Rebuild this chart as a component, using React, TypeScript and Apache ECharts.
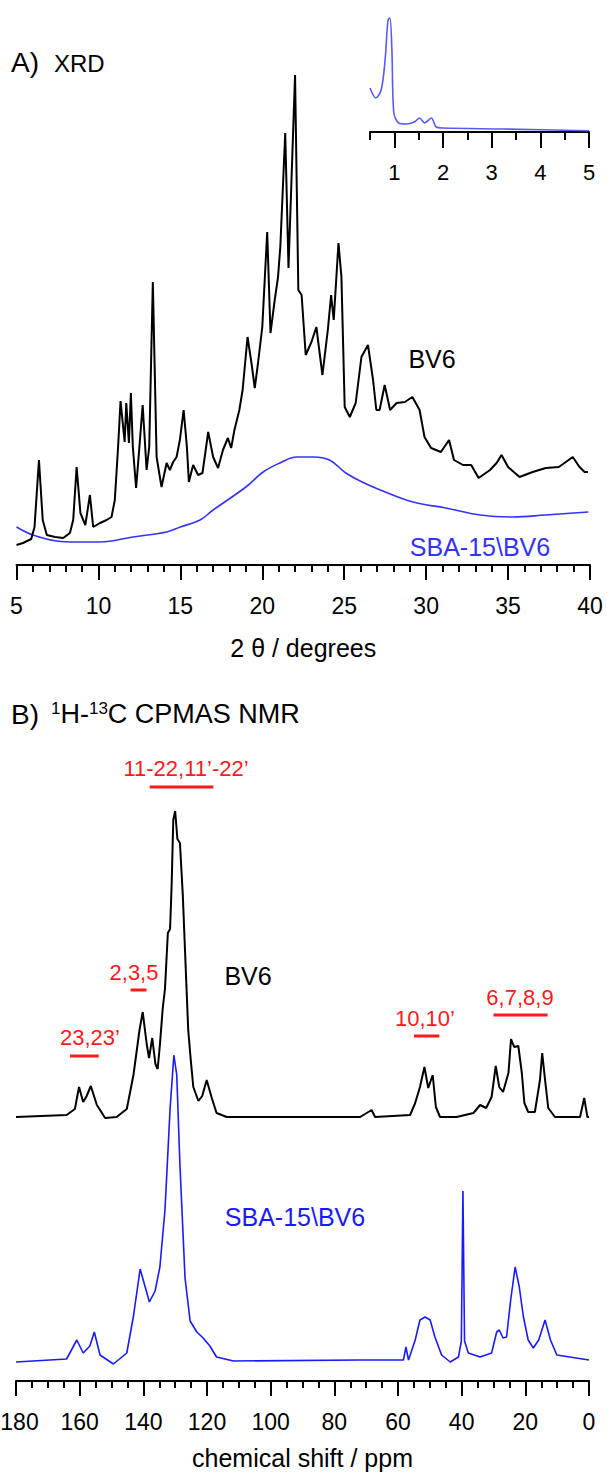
import React, { useEffect, useRef } from "react";
import * as echarts from "echarts";

const FONT = "'Liberation Sans', Arial, Helvetica, sans-serif";

// ---------- A) XRD (2θ in degrees, intensity in arbitrary units) ----------
const xrdAngle = [
  5.0, 5.4, 5.9, 6.1, 6.37, 6.6, 6.85, 7.35, 7.85, 8.26, 8.46, 8.67, 8.9, 9.2, 9.48, 9.68,
  10.1, 10.5, 10.8, 11.0, 11.2, 11.35, 11.6, 11.7, 11.86, 11.98, 12.1, 12.3, 12.5, 12.7, 12.94,
  13.1, 13.32, 13.55, 13.85, 14.16, 14.36, 14.56, 14.77, 14.97, 15.2, 15.4, 15.52, 15.78, 16.08,
  16.35, 16.7, 17.0, 17.3, 17.6, 17.9, 18.1, 18.3, 18.6, 18.8, 19.1, 19.34, 19.54, 19.74, 20.0,
  20.3, 20.5, 20.76, 20.96, 21.1, 21.4, 21.6, 22.0, 22.2, 22.4, 22.65, 23.0, 23.3, 23.67, 24.0,
  24.2, 24.36, 24.65, 24.83, 25.03, 25.34, 25.7, 26.05, 26.45, 26.76, 26.96, 27.16, 27.47, 27.8,
  28.2, 28.7, 29.16, 29.6, 29.9, 30.3, 30.9, 31.4, 31.7, 32.25, 32.75, 33.2, 33.9, 34.3, 34.6,
  35.0, 35.7, 36.5, 37.3, 38.1, 38.95, 39.36, 39.67, 39.87,
];
const xrdBV6 = [
  20, 22, 26, 38, 105, 45, 30, 28, 27, 32, 45, 98, 52, 40, 70, 38,
  42, 45, 48, 65, 118, 164, 123, 162, 122, 172, 118, 77, 118, 160, 95,
  118, 283, 108, 78, 102, 95, 103, 108, 125, 155, 118, 83, 100, 90,
  92, 133, 108, 97, 115, 127, 117, 135, 155, 175, 228, 202, 177, 202, 238,
  333, 232, 265, 288, 318, 432, 297, 490, 275, 270, 210, 223, 238, 190, 235,
  270, 245, 322, 288, 158, 148, 162, 208, 220, 185, 155, 155, 180, 155,
  162, 163, 168, 155, 128, 117, 113, 125, 105, 100, 100, 87, 95, 102, 110,
  98, 88, 93, 97, 98, 108, 98, 93, 93,
];
const xrdSbaAngle = [
  5.0, 6.0, 7.45, 8.67, 10.1, 12.1, 14.16, 15.0, 16.2, 17.0, 19.0, 20.05, 21.07, 22.1, 23.1,
  24.1, 25.1, 26.1, 27.2, 29.2, 31.2, 33.3, 35.3, 37.3, 39.9,
];
const xrdSba = [
  38, 30, 24, 23, 23, 28, 33, 38, 45, 55, 78, 93, 102, 108, 108,
  105, 92, 83, 75, 63, 57, 50, 48, 50, 53,
];

// inset: low-angle XRD of SBA-15\BV6
const insetAngle = [
  0.5, 0.62, 0.73, 0.81, 0.87, 0.91, 0.95, 0.99, 1.09, 1.25, 1.41, 1.52, 1.62, 1.76, 1.86, 2.0, 3.23, 5.0,
];
const insetSba = [44, 34, 42, 72, 112, 114, 82, 19, 9, 8, 10, 14, 9, 14, 5, 4, 3, 1.3];
const insetTicks = [1, 2, 3, 4, 5];

// ---------- B) 1H-13C CPMAS NMR (chemical shift in ppm, stacked intensity) ----------
const nmrBV6Shift = [
  180, 164.1, 161.5, 160.2, 158.9, 157.8, 156.5, 154.6, 152, 148.4, 145.2, 143.1, 141.2, 140.2,
  138.9, 138.2, 137.2, 136.2, 135.5, 134.8, 133.9, 133.2, 132.3, 131.6, 131.1, 130.6, 130.0, 129.3,
  128.5, 127.6, 126.8, 125.9, 125.1, 124.3, 122.7, 121.5, 120.1, 118.5, 117, 113.8, 106.5, 71.9,
  68.3, 67.2, 56.2, 54.6, 53.1, 51.7, 50.5, 49.1, 48.1, 46.8, 41.6, 36.3, 34.2, 32.3, 30.6, 29.3,
  28.2, 27, 25.3, 24.5, 23.5, 22.2, 21.1, 20.3, 19.1, 17, 15.4, 14.7, 13.8, 12.8, 10.7, 2.8, 1.5,
  0.5, 0,
];
const nmrBV6 = [
  264, 266, 272, 294, 279, 285, 295, 276, 263, 264, 272, 306, 351, 369,
  336, 323, 343, 317, 312, 336, 373, 392, 448, 452, 497, 561, 570, 542,
  538, 486, 422, 351, 321, 294, 280, 285, 301, 283, 268, 264, 264, 264,
  271, 264, 266, 278, 294, 314, 293, 306, 274, 264, 264, 268, 276, 273, 284, 315,
  294, 289, 308, 342, 334, 335, 308, 278, 269, 269, 301, 328, 301, 273, 264, 264, 283,
  264, 264,
];
const nmrSbaShift = [
  180, 164.1, 160.9, 158.9, 156.8, 155.4, 153.6, 149.4, 145.2, 143.1, 141, 139.5, 138.1, 136.3,
  134.8, 133.2, 131.6, 130.4, 129.5, 128.5, 126.9, 125.3, 123.2, 121.2, 119.1, 117, 111.7, 71.9,
  58.3, 57.5, 56.7, 54.6, 53.1, 51.5, 49.9, 48.4, 46.3, 43.6, 41, 40.1, 39.6, 39.1, 37.9, 34.2,
  30.6, 29, 28.2, 27, 25.9, 24.6, 23.2, 21.9, 20.6, 19.1, 17.5, 15.8, 13.8, 12.1, 10.1, 0,
];
const nmrSba = [
  19, 22, 41, 28, 35, 49, 26, 17, 28, 65, 112, 95, 79, 90,
  114, 171, 272, 326, 306, 216, 103, 60, 49, 43, 35, 24, 20, 21,
  21, 34, 21, 41, 61, 64, 61, 44, 26, 19, 24, 40, 190, 40, 28, 24,
  28, 49, 51, 43, 44, 81, 114, 94, 64, 41, 33, 41, 61, 41, 26, 21,
];

// peak assignments (bars in ppm)
const assignLabels = ["11-22,11\u2019-22\u2019", "2,3,5", "23,23\u2019", "10,10\u2019", "6,7,8,9"];
const assignFrom = [138, 144, 163, 55, 30];
const assignTo = [118, 139, 154, 47, 13];
const assignLevel = [594, 391, 325, 345, 366];

const pairs = (xs: number[], ys: number[]) => xs.map((x, i) => [x, ys[i]]);

export default function App() {
  const ref = useRef<HTMLDivElement>(null);

  useEffect(() => {
    const chart = echarts.init(ref.current!, null, { renderer: "svg" });
    const black = "#000";
    const tickStyle = { color: black, width: 2 };
    const labelStyle = (size: number, margin: number) => ({
      color: black,
      fontSize: size,
      fontFamily: FONT,
      margin,
    });

    // label centres for the assignments (pixel positions)
    const assignTextPos = [
      [186, 768],
      [134, 972],
      [90, 1037],
      [425, 1018],
      [520, 997],
    ];

    const option: any = {
      animation: false,
      backgroundColor: "#fff",
      grid: [
        { left: 16.5, right: 17, top: 65, height: 500, outerBoundsMode: "none" },
        { left: 370, right: 18, top: 12, height: 120, outerBoundsMode: "none" },
        { left: 16, right: 18, top: 781, height: 600, outerBoundsMode: "none" },
      ],
      xAxis: [
        {
          gridIndex: 0,
          type: "value",
          min: 5,
          max: 40,
          interval: 5,
          position: "bottom",
          axisLine: { show: true, onZero: false, lineStyle: tickStyle },
          axisTick: { show: true, length: 15, lineStyle: tickStyle },
          minorTick: { show: true, splitNumber: 5, length: 7, lineStyle: tickStyle },
          axisLabel: labelStyle(23, 29),
          splitLine: { show: false },
          minorSplitLine: { show: false },
          name: "2 \u03b8 / degrees",
          nameLocation: "middle",
          nameGap: 70,
          nameTextStyle: { color: black, fontSize: 25, fontFamily: FONT },
        },
        {
          gridIndex: 1,
          type: "value",
          min: 0.5,
          max: 5,
          interval: 0.5,
          position: "bottom",
          axisLine: { show: true, onZero: false, lineStyle: tickStyle },
          axisTick: { show: true, length: 8, lineStyle: tickStyle },
          axisLabel: { show: false },
          splitLine: { show: false },
        },
        {
          gridIndex: 1,
          type: "value",
          min: 0.5,
          max: 5,
          position: "bottom",
          axisLine: { show: false, onZero: false },
          axisTick: { show: true, length: 16, lineStyle: tickStyle, customValues: insetTicks },
          axisLabel: { ...labelStyle(22, 29), customValues: insetTicks },
          splitLine: { show: false },
        },
        {
          gridIndex: 2,
          type: "value",
          min: 0,
          max: 180,
          interval: 20,
          inverse: true,
          position: "bottom",
          axisLine: { show: true, onZero: false, lineStyle: tickStyle },
          axisTick: { show: true, length: 15, lineStyle: tickStyle },
          minorTick: { show: true, splitNumber: 4, length: 7, lineStyle: tickStyle },
          axisLabel: {
            ...labelStyle(23, 29),
            formatter: (v: number) => (v === 180 ? "{e|180}" : String(v)),
            rich: { e: { fontSize: 23, fontFamily: FONT, color: black, padding: [0, 0, 0, 7] } },
          },
          splitLine: { show: false },
          minorSplitLine: { show: false },
          name: "chemical shift / ppm",
          nameLocation: "middle",
          nameGap: 64,
          nameTextStyle: { color: black, fontSize: 25, fontFamily: FONT },
        },
      ],
      yAxis: [
        { gridIndex: 0, type: "value", min: 0, max: 500, show: false },
        { gridIndex: 1, type: "value", min: 0, max: 120, show: false },
        { gridIndex: 2, type: "value", min: 0, max: 600, show: false },
      ],
      series: [
        {
          name: "SBA-15\\BV6 XRD",
          type: "line",
          xAxisIndex: 0,
          yAxisIndex: 0,
          data: pairs(xrdSbaAngle, xrdSba),
          symbol: "none",
          smooth: 0.4,
          lineStyle: { color: "#3333ff", width: 1.6 },
        },
        {
          name: "BV6 XRD",
          type: "line",
          xAxisIndex: 0,
          yAxisIndex: 0,
          data: pairs(xrdAngle, xrdBV6),
          symbol: "none",
          lineStyle: { color: black, width: 2 },
        },
        {
          name: "SBA-15\\BV6 low angle",
          type: "line",
          xAxisIndex: 1,
          yAxisIndex: 1,
          data: pairs(insetAngle, insetSba),
          symbol: "none",
          smooth: 0.3,
          lineStyle: { color: "#5a5af2", width: 1.6 },
        },
        {
          name: "BV6 NMR",
          type: "line",
          xAxisIndex: 3,
          yAxisIndex: 2,
          data: pairs(nmrBV6Shift, nmrBV6),
          symbol: "none",
          lineStyle: { color: black, width: 2 },
        },
        {
          name: "SBA-15\\BV6 NMR",
          type: "line",
          xAxisIndex: 3,
          yAxisIndex: 2,
          data: pairs(nmrSbaShift, nmrSba),
          symbol: "none",
          lineStyle: { color: "#1a1aff", width: 1.6 },
        },
        ...assignLabels.map((lab, i) => ({
          name: lab,
          type: "line",
          xAxisIndex: 3,
          yAxisIndex: 2,
          data: [
            [assignFrom[i], assignLevel[i]],
            [assignTo[i], assignLevel[i]],
          ],
          symbol: "none",
          lineStyle: { color: "#ff1a1a", width: 3 },
        })),
      ],
      graphic: [
        {
          type: "text",
          x: 11,
          y: 62,
          style: { text: "A)", fontSize: 28, fontFamily: FONT, fill: black, align: "left", verticalAlign: "middle" },
        },
        {
          type: "text",
          x: 54,
          y: 63,
          style: { text: "XRD", fontSize: 24, fontFamily: FONT, fill: black, align: "left", verticalAlign: "middle" },
        },
        {
          type: "text",
          x: 11,
          y: 714,
          style: { text: "B)", fontSize: 28, fontFamily: FONT, fill: black, align: "left", verticalAlign: "middle" },
        },
        {
          type: "text",
          x: 51,
          y: 714,
          style: {
            text: "{s|1}{m|H-}{s|13}{m|C CPMAS NMR}",
            align: "left",
            verticalAlign: "middle",
            fill: black,
            rich: {
              s: { fontSize: 17, fontFamily: FONT, fill: black, verticalAlign: "top", lineHeight: 28 },
              m: { fontSize: 27, fontFamily: FONT, fill: black, lineHeight: 28 },
            },
          },
        },
        {
          type: "text",
          x: 432,
          y: 359,
          style: { text: "BV6", fontSize: 25, fontFamily: FONT, fill: black, align: "center", verticalAlign: "middle" },
        },
        {
          type: "text",
          x: 480,
          y: 547,
          style: { text: "SBA-15\\BV6", fontSize: 25, fontFamily: FONT, fill: "#3333ff", align: "center", verticalAlign: "middle" },
        },
        {
          type: "text",
          x: 248,
          y: 976,
          style: { text: "BV6", fontSize: 25, fontFamily: FONT, fill: black, align: "center", verticalAlign: "middle" },
        },
        {
          type: "text",
          x: 295,
          y: 1217,
          style: { text: "SBA-15\\BV6", fontSize: 25, fontFamily: FONT, fill: "#1a1aff", align: "center", verticalAlign: "middle" },
        },
        ...assignLabels.map((lab, i) => ({
          type: "text",
          x: assignTextPos[i][0],
          y: assignTextPos[i][1],
          style: { text: lab, fontSize: 22, fontFamily: FONT, fill: "#ff1a1a", align: "center", verticalAlign: "middle" },
        })),
      ],
    };

    chart.setOption(option);
    return () => chart.dispose();
  }, []);

  return (
    <div
      ref={ref}
      style={{ position: "absolute", left: 0, top: 0, width: 607, height: 1474, background: "#fff" }}
    />
  );
}
